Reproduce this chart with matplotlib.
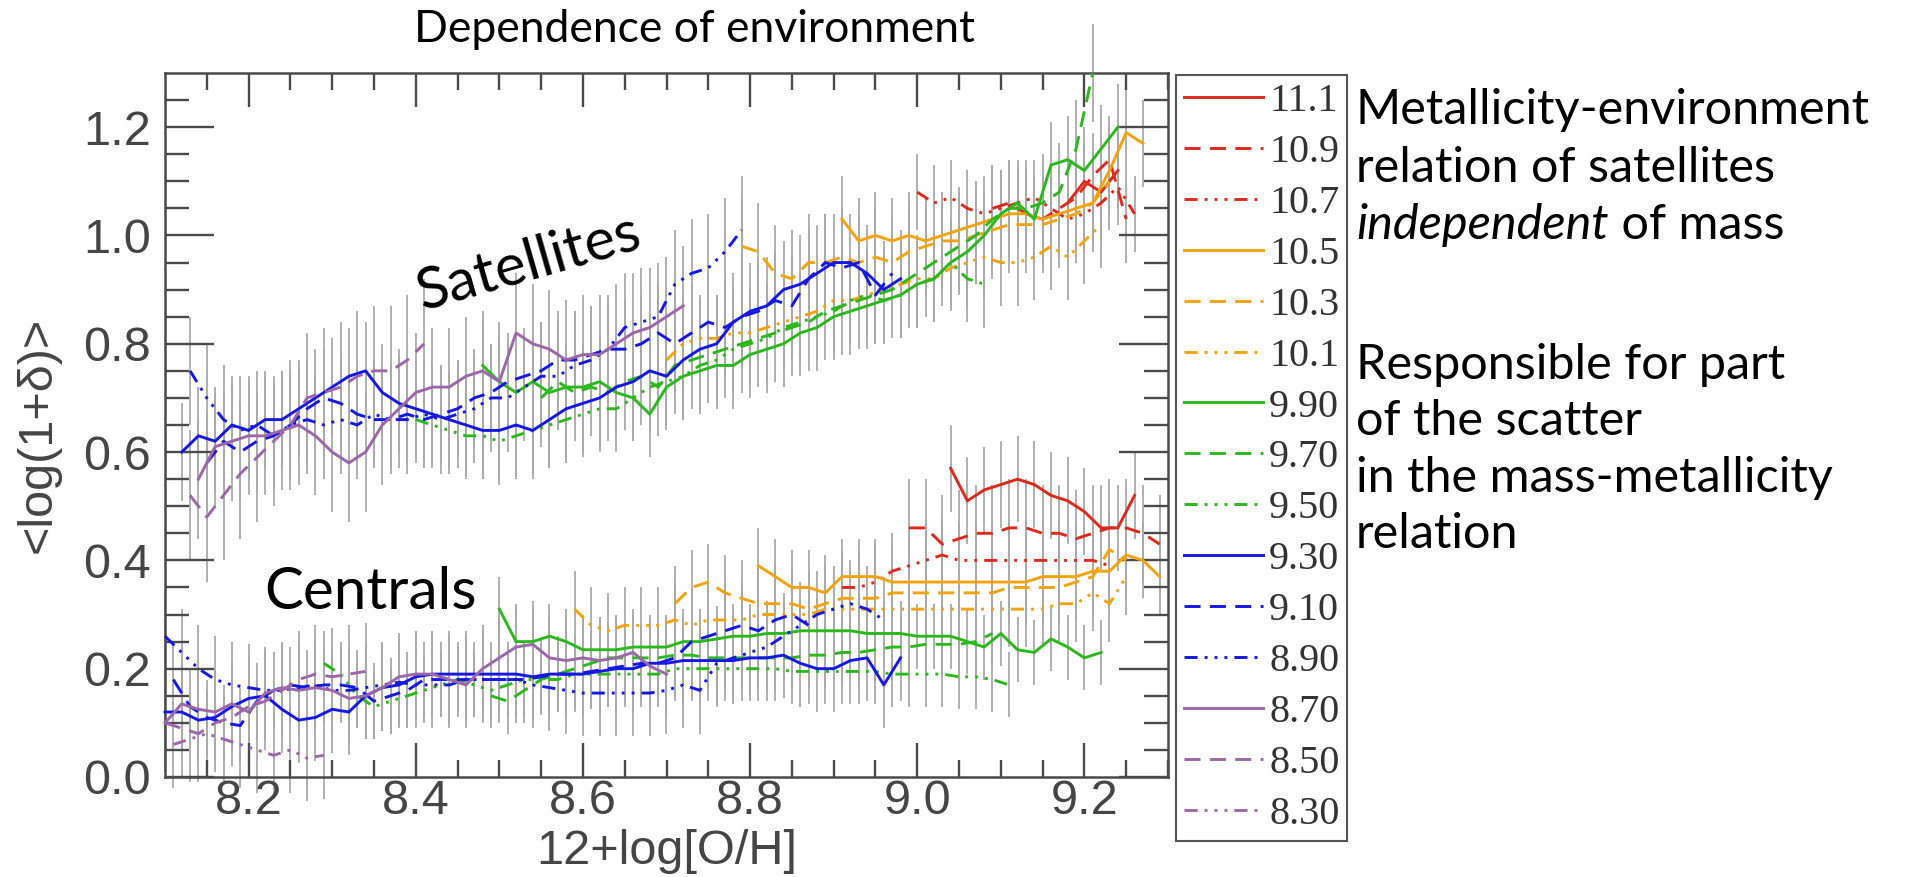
import numpy as np
import matplotlib
matplotlib.use("Agg")
import matplotlib.pyplot as plt

# stellar-mass bins (log M*) in the key, top to bottom
mass_bins = ["11.1", "10.9", "10.7", "10.5", "10.3", "10.1", "9.90", "9.70",
             "9.50", "9.30", "9.10", "8.90", "8.70", "8.50", "8.30"]

# metallicity bin width of the running means
STEP = 0.02

# satellites: (first 12+log[O/H] bin, mean log(1+delta) per bin)
sat_111 = (9.18, [1.06, 1.10, 1.08, 1.12])
sat_109 = (9.09, [1.05, 1.06, 1.04, 1.03, 1.05, 1.07, 1.11, 1.14, 1.03])
sat_107 = (9.00, [1.08, 1.06, 1.07, 1.05, 1.04, 1.05, 1.06, 1.07, 1.05, 1.03,
                  1.04, 1.06, 1.09, 1.04])
sat_105 = (8.91, [1.03, 0.99, 1.00, 0.99, 1.00, 0.99, 1.00, 1.01, 1.02, 1.03,
                  1.04, 1.04, 1.03, 1.04, 1.05, 1.06, 1.12, 1.19, 1.17])
sat_103 = (8.79, [0.98, 0.97, 0.93, 0.92, 0.95, 0.95, 0.96, 0.95, 0.96, 0.95,
                  0.97, 0.98, 0.99, 0.99, 1.00, 1.01, 1.02, 1.02, 1.02, 1.03,
                  1.04, 1.06, 1.10])
sat_101 = (8.70, [0.77, 0.80, 0.81, 0.81, 0.82, 0.82, 0.83, 0.84, 0.85, 0.86,
                  0.88, 0.88, 0.89, 0.90, 0.91, 0.92, 0.92, 0.94, 0.95, 0.96,
                  0.95, 0.95, 0.96, 0.98, 0.96, 0.99, 1.02])
sat_990 = (8.48, [0.76, 0.73, 0.71, 0.73, 0.71, 0.72, 0.72, 0.73, 0.71, 0.70,
                  0.67, 0.72, 0.74, 0.75, 0.76, 0.76, 0.78, 0.79, 0.80, 0.82,
                  0.83, 0.85, 0.86, 0.87, 0.88, 0.89, 0.91, 0.92, 0.95, 0.97,
                  1.00, 1.04, 1.06, 1.03, 1.13, 1.14, 1.12, 1.16, 1.20])
sat_970 = (8.55, [0.70, 0.73, 0.71, 0.72, 0.71, 0.73, 0.74, 0.72, 0.76, 0.77,
                  0.78, 0.79, 0.80, 0.81, 0.82, 0.83, 0.84, 0.86, 0.87, 0.88,
                  0.89, 0.90, 0.92, 0.94, 0.96, 0.98, 1.00, 1.03, 1.05, 1.05,
                  1.06, 1.08, 1.16, 1.30])
sat_950 = (8.40, [0.66, 0.65, 0.64, 0.63, 0.63, 0.62, 0.63, 0.64, 0.65, 0.66,
                  0.67, 0.68, 0.68, 0.70, 0.72, 0.73, 0.74, 0.76, 0.77, 0.79,
                  0.80, 0.81, 0.83, 0.84, 0.85, 0.86, 0.88, 0.89, 0.88, 0.89,
                  0.91, 0.92, 0.95, 0.92, 0.91])
sat_930 = (8.12, [0.60, 0.63, 0.62, 0.65, 0.64, 0.66, 0.66, 0.68, 0.70, 0.72,
                  0.74, 0.75, 0.71, 0.69, 0.68, 0.67, 0.66, 0.65, 0.64, 0.64,
                  0.65, 0.64, 0.66, 0.68, 0.69, 0.70, 0.72, 0.73, 0.75, 0.74,
                  0.77, 0.79, 0.80, 0.84, 0.86, 0.87, 0.90, 0.91, 0.93, 0.95,
                  0.95, 0.93, 0.90, 0.92])
sat_910 = (8.15, [0.58, 0.62, 0.60, 0.62, 0.63, 0.65, 0.68, 0.70, 0.69, 0.67,
                  0.66, 0.66, 0.67, 0.66, 0.67, 0.68, 0.70, 0.71, 0.73, 0.74,
                  0.75, 0.77, 0.77, 0.78, 0.79, 0.79, 0.80, 0.82, 0.80, 0.82,
                  0.84, 0.83, 0.85, 0.86, 0.88, 0.87, 0.92, 0.95, 0.94, 0.95,
                  0.89, 0.93])
sat_890 = (8.13, [0.75, 0.70, 0.66, 0.64, 0.65, 0.63, 0.65, 0.66, 0.65, 0.66,
                  0.65, 0.67, 0.66, 0.66, 0.67, 0.66, 0.67, 0.68, 0.70, 0.70,
                  0.72, 0.74, 0.74, 0.76, 0.77, 0.79, 0.83, 0.84, 0.85, 0.91,
                  0.93, 0.94, 0.97, 1.01])
sat_870 = (8.14, [0.55, 0.61, 0.62, 0.63, 0.63, 0.64, 0.65, 0.63, 0.60, 0.58,
                  0.60, 0.65, 0.68, 0.71, 0.72, 0.72, 0.74, 0.75, 0.73, 0.82,
                  0.80, 0.79, 0.77, 0.78, 0.78, 0.80, 0.82, 0.83, 0.85, 0.87])
sat_850 = (8.13, [0.52, 0.48, 0.52, 0.56, 0.59, 0.62, 0.65, 0.70, 0.71, 0.72,
                  0.74, 0.75, 0.75, 0.77, 0.80])
sat_830 = None

# centrals
cen_111 = (9.04, [0.57, 0.51, 0.53, 0.54, 0.55, 0.54, 0.52, 0.51, 0.49, 0.46,
                  0.46, 0.52])
cen_109 = (8.99, [0.46, 0.46, 0.43, 0.44, 0.45, 0.45, 0.46, 0.46, 0.45, 0.45,
                  0.44, 0.45, 0.46, 0.46, 0.45, 0.43])
cen_107 = (8.91, [0.35, 0.35, 0.36, 0.38, 0.39, 0.40, 0.41, 0.40, 0.40, 0.40,
                  0.40, 0.40, 0.40, 0.40, 0.40, 0.40, 0.39])
cen_105 = (8.81, [0.39, 0.37, 0.35, 0.35, 0.34, 0.37, 0.37, 0.37, 0.36, 0.36,
                  0.36, 0.36, 0.36, 0.36, 0.36, 0.36, 0.36, 0.37, 0.37, 0.37,
                  0.38, 0.38, 0.41, 0.40, 0.37])
cen_103 = (8.71, [0.32, 0.35, 0.36, 0.34, 0.33, 0.32, 0.32, 0.32, 0.31, 0.32,
                  0.33, 0.33, 0.33, 0.34, 0.34, 0.34, 0.34, 0.34, 0.34, 0.34,
                  0.35, 0.35, 0.35, 0.35, 0.36, 0.37, 0.42, 0.40])
cen_101 = (8.59, [0.31, 0.28, 0.27, 0.28, 0.28, 0.28, 0.29, 0.28, 0.29, 0.29,
                  0.29, 0.30, 0.30, 0.30, 0.30, 0.31, 0.31, 0.31, 0.31, 0.31,
                  0.31, 0.31, 0.31, 0.31, 0.31, 0.31, 0.31, 0.31, 0.31, 0.32,
                  0.32, 0.34, 0.32, 0.37])
cen_990 = (8.50, [0.31, 0.25, 0.25, 0.26, 0.25, 0.235, 0.235, 0.235, 0.24, 0.24,
                  0.24, 0.25, 0.25, 0.255, 0.26, 0.26, 0.265, 0.265, 0.27, 0.27,
                  0.27, 0.27, 0.265, 0.265, 0.265, 0.26, 0.26, 0.26, 0.25, 0.24,
                  0.265, 0.235, 0.23, 0.255, 0.24, 0.22, 0.23])
cen_970 = (8.49, [0.15, 0.14, 0.16, 0.18, 0.19, 0.20, 0.21, 0.22, 0.22, 0.22,
                  0.22, 0.225, 0.225, 0.22, 0.22, 0.22, 0.22, 0.22, 0.22, 0.225,
                  0.225, 0.23, 0.23, 0.235, 0.24, 0.24, 0.245, 0.245, 0.245, 0.25,
                  0.265])
cen_950 = (8.29, [0.21, 0.19, 0.15, 0.13, 0.14, 0.15, 0.16, 0.17, 0.18, 0.17,
                  0.16, 0.17, 0.18, 0.18, 0.18, 0.19, 0.19, 0.19, 0.19, 0.19,
                  0.19, 0.20, 0.20, 0.20, 0.20, 0.20, 0.20, 0.20, 0.195, 0.195,
                  0.195, 0.195, 0.195, 0.195, 0.19, 0.19, 0.19, 0.19, 0.185, 0.185,
                  0.18, 0.17])
cen_930 = (8.10, [0.12, 0.12, 0.105, 0.11, 0.13, 0.145, 0.15, 0.125, 0.105, 0.11,
                  0.125, 0.12, 0.15, 0.165, 0.17, 0.185, 0.19, 0.19, 0.19, 0.19,
                  0.19, 0.19, 0.185, 0.19, 0.19, 0.19, 0.195, 0.20, 0.20, 0.21,
                  0.21, 0.215, 0.215, 0.215, 0.215, 0.22, 0.22, 0.225, 0.21, 0.20,
                  0.20, 0.215, 0.22, 0.17, 0.22])
cen_910 = (8.11, [0.18, 0.13, 0.11, 0.10, 0.095, 0.14, 0.16, 0.17, 0.165, 0.17,
                  0.17, 0.165, 0.14, 0.15, 0.16, 0.18, 0.18, 0.18, 0.18, 0.18,
                  0.18, 0.18, 0.185, 0.19, 0.19, 0.195, 0.20, 0.205, 0.21, 0.21,
                  0.22, 0.25, 0.26, 0.27, 0.28, 0.27, 0.29, 0.30, 0.28])
cen_890 = (8.10, [0.26, 0.23, 0.20, 0.18, 0.17, 0.165, 0.16, 0.16, 0.165, 0.17,
                  0.16, 0.16, 0.165, 0.17, 0.175, 0.17, 0.17, 0.17, 0.18, 0.18,
                  0.18, 0.18, 0.17, 0.165, 0.16, 0.155, 0.155, 0.155, 0.155, 0.155,
                  0.16, 0.17, 0.16, 0.21, 0.22, 0.23, 0.24, 0.26, 0.28, 0.30,
                  0.31, 0.32, 0.31, 0.29])
cen_870 = (8.10, [0.10, 0.135, 0.125, 0.12, 0.135, 0.12, 0.155, 0.165, 0.16, 0.165,
                  0.16, 0.145, 0.15, 0.165, 0.185, 0.19, 0.19, 0.18, 0.17, 0.20,
                  0.22, 0.24, 0.245, 0.22, 0.215, 0.22, 0.215, 0.22, 0.23, 0.205,
                  0.19])
cen_850 = (8.10, [0.10, 0.09, 0.08, 0.10, 0.11, 0.13, 0.14, 0.16, 0.18, 0.19,
                  0.185, 0.19, 0.195])
cen_830 = (8.11, [0.06, 0.07, 0.08, 0.07, 0.06, 0.05, 0.04, 0.05, 0.035, 0.04])

# 1-sigma spread of each bin
sat_err = [0.07, 0.08, 0.07, 0.08, 0.09, 0.08, 0.08, 0.09, 0.08, 0.09,
           0.09, 0.10, 0.11, 0.12, 0.10]
cen_err = [0.08, 0.09, 0.07, 0.07, 0.07, 0.07, 0.06, 0.06, 0.06, 0.08,
           0.07, 0.08, 0.08, 0.09, 0.08]

satellites = [sat_111, sat_109, sat_107, sat_105, sat_103, sat_101, sat_990,
              sat_970, sat_950, sat_930, sat_910, sat_890, sat_870, sat_850, sat_830]
centrals = [cen_111, cen_109, cen_107, cen_105, cen_103, cen_101, cen_990,
            cen_970, cen_950, cen_930, cen_910, cen_890, cen_870, cen_850, cen_830]

# IDL-ish colours / linestyles: solid, dashed, dash-dot-dot-dot per colour
palette = ["#dc2a1e", "#f3a30e", "#2cb81d", "#1717e3", "#9b67a9"]
styles = ["-", (0, (5.5, 3.2)), (0, (4.5, 2.4, 1, 2.4, 1, 2.4, 1, 2.4))]

GREY = "#a9a9a9"
AXC = "#4a4a4a"
SANS = "Liberation Sans"

fig = plt.figure(figsize=(19.05, 8.77), dpi=100)
ax = fig.add_axes([165 / 1905, 100 / 877, 1003 / 1905, 704 / 877])

handles = []
for i, lab in enumerate(mass_bins):
    col = palette[i // 3]
    ls = styles[i % 3]
    h = None
    for data, err in ((satellites[i], sat_err[i]), (centrals[i], cen_err[i])):
        if data is None:
            continue
        x0, vals = data
        y = np.array(vals)
        x = x0 + STEP * np.arange(len(y))
        ax.vlines(x, y - err, y + err, colors=GREY, lw=1.3, zorder=1, clip_on=False)
        h, = ax.plot(x, y, color=col, ls=ls, lw=2.1, zorder=3, clip_on=False,
                     label=lab)
    handles.append(h)

ax.set_xlim(8.1, 9.3)
ax.set_ylim(0.0, 1.3)
ax.set_xticks([8.2, 8.4, 8.6, 8.8, 9.0, 9.2])
ax.set_xticks(np.arange(8.15, 9.3, 0.05), minor=True)
ax.set_yticks([0.0, 0.2, 0.4, 0.6, 0.8, 1.0, 1.2])
ax.set_yticks(np.arange(0.05, 1.3, 0.05), minor=True)
ax.set_xticklabels(["8.2", "8.4", "8.6", "8.8", "9.0", "9.2"])
ax.set_yticklabels(["0.0", "0.2", "0.4", "0.6", "0.8", "1.0", "1.2"])

ax.tick_params(axis="x", which="major", direction="in", length=24.5, width=1.7,
               color=AXC, top=True, bottom=True, pad=1.5, labelsize=35,
               labelcolor="#454545")
ax.tick_params(axis="x", which="minor", direction="in", length=12, width=1.7,
               color=AXC, top=True, bottom=True)
ax.tick_params(axis="y", which="major", direction="in", length=35, width=1.7,
               color=AXC, left=True, right=True, pad=10, labelsize=35,
               labelcolor="#454545")
ax.tick_params(axis="y", which="minor", direction="in", length=17, width=1.7,
               color=AXC, left=True, right=True)
for t in ax.get_xticklabels() + ax.get_yticklabels():
    t.set_fontfamily(SANS)
for sp in ax.spines.values():
    sp.set_color(AXC)
    sp.set_linewidth(1.8)

ax.set_xlabel("12+log[O/H]", fontsize=35, family=SANS, color="#454545", va="center")
ax.xaxis.set_label_coords(0.5, (777 - 851) / 704)
ax.set_ylabel("<log(1+δ)>", fontsize=35, family=SANS, color="#454545", va="center")
ax.yaxis.set_label_coords((38 - 165) / 1003, (777 - 435) / 704)

# group labels
ax.text(8.535, 0.948, "Satellites", rotation=16, rotation_mode="anchor",
        ha="center", va="center", fontsize=42, family="Lato", color="black")
ax.text(8.346, 0.341, "Centrals", ha="center", va="center", fontsize=42,
        family="Lato", color="black")

# mass key in its own box
leg = fig.legend(handles, mass_bins, loc="upper left",
                 bbox_to_anchor=(1176 / 1905, 1 - 75 / 877),
                 prop={"family": "Liberation Serif", "size": 29},
                 handlelength=1.96, handletextpad=0.15, labelspacing=0.34,
                 borderpad=0.2, borderaxespad=0, fancybox=False,
                 framealpha=1, edgecolor="#555555")
leg.get_frame().set_linewidth(1.5)
for t in leg.get_texts():
    t.set_color("#333333")

fig.text(694 / 1905, 1 - 30 / 877, "Dependence of environment", ha="center",
         va="center", fontsize=32, family="Lato")

# side notes
tx = 1356 / 1905


def note(y_px, s, **kw):
    return fig.text(tx, 1 - y_px / 877, s, ha="left", va="baseline",
                    fontsize=35, family="Lato", **kw)


note(124, "Metallicity-environment")
note(182, "relation of satellites")
it = note(239, "independent", style="italic")
ax.annotate(" of mass", xy=(1, 0), xycoords=it, ha="left", va="bottom",
            fontsize=35, family="Lato", annotation_clip=False)
note(379, "Responsible for part")
note(435, "of the scatter")
note(492, "in the mass-metallicity")
note(548, "relation")

fig.savefig("out.png", dpi=100)
